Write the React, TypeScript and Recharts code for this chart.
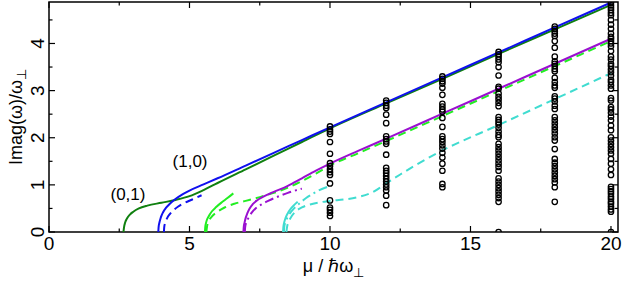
import React from 'react';
import { ComposedChart, Line, Scatter, XAxis, YAxis, ReferenceArea, ReferenceDot } from 'recharts';

type P = [number, number];

// ---- curves (x = mu / hbar omega_perp, y = Imag(omega)/omega_perp) ----
const mode01Solid: P[] = [[2.65,0],[2.67,0.1],[2.71,0.2],[2.78,0.29],[2.88,0.37],[3.0,0.43],[3.2,0.5],[3.5,0.56],[4.0,0.62],[4.5,0.68],[5.0,0.76],[5.5,0.89],[6,1.04],[7,1.33],[8,1.62],[9,1.91],[10,2.2],[12,2.73],[14,3.25],[16,3.78],[18,4.3],[20,4.82]];
const mode10Solid: P[] = [[3.89,0],[3.9,0.1],[3.93,0.2],[3.98,0.31],[4.06,0.42],[4.16,0.51],[4.3,0.6],[4.5,0.7],[4.75,0.8],[5.0,0.88],[5.5,1.01],[6,1.14],[7,1.41],[8,1.68],[9,1.95],[10,2.22],[12,2.75],[14,3.28],[16,3.81],[18,4.34],[20,4.87]];
const blueDashed: P[] = [[4.09,0],[4.1,0.1],[4.14,0.2],[4.2,0.29],[4.3,0.38],[4.45,0.47],[4.6,0.54],[4.8,0.61],[5.1,0.69],[5.43,0.78]];
const limeSolid: P[] = [[5.55,0],[5.56,0.1],[5.6,0.22],[5.68,0.33],[5.8,0.44],[5.95,0.53],[6.15,0.63],[6.35,0.72],[6.56,0.82]];
const limeDashed: P[] = [[5.6,0],[5.62,0.1],[5.68,0.22],[5.8,0.33],[6.0,0.43],[6.25,0.52],[6.6,0.6],[7.0,0.66],[7.5,0.74],[8.0,0.83],[8.5,0.94],[9.0,1.08],[9.5,1.24],[10,1.41],[11,1.67],[12,1.93],[14,2.46],[16,2.99],[18,3.52],[20,4.05]];
const purpleSolid: P[] = [[6.92,0],[6.93,0.1],[6.96,0.2],[7.0,0.3],[7.06,0.4],[7.14,0.5],[7.25,0.59],[7.4,0.67],[7.63,0.75],[8.0,0.85],[8.5,0.98],[9.0,1.14],[9.5,1.3],[10,1.45],[11,1.72],[12,1.98],[14,2.51],[16,3.04],[18,3.57],[20,4.1]];
const purpleDashDot: P[] = [[6.97,0],[6.98,0.1],[7.02,0.2],[7.1,0.3],[7.2,0.4],[7.35,0.5],[7.55,0.58],[7.8,0.66],[8.1,0.74],[8.5,0.83],[9.0,0.92]];
const turqSolid: P[] = [[8.33,0],[8.34,0.1],[8.37,0.2],[8.42,0.3],[8.5,0.4],[8.6,0.49],[8.72,0.57],[8.85,0.64]];
const turqDashDot: P[] = [[8.36,0],[8.37,0.1],[8.41,0.2],[8.48,0.3],[8.58,0.4],[8.72,0.5],[8.9,0.6],[9.15,0.72],[9.5,0.85],[10,0.98]];
const turqDashed: P[] = [[8.45,0],[8.47,0.1],[8.52,0.2],[8.6,0.3],[8.75,0.42],[9.0,0.52],[9.4,0.6],[10,0.66],[10.5,0.69],[11,0.74],[11.5,0.84],[12,1.03],[12.5,1.22],[13,1.4],[14,1.73],[16,2.27],[18,2.82],[20,3.37]];

// ---- numerical eigenvalues (open circles) ----
const col10 = [2.24,2.18,2.13,2.08,1.91,1.66,1.46,1.40,1.33,1.27,1.21,1.03,0.67,0.52,0.47,0.41,0.34];
const col12 = [2.79,2.74,2.68,2.63,2.49,2.31,2.03,1.97,1.92,1.87,1.64,1.36,1.30,1.25,1.19,1.13,1.07,1.01,0.95,0.88,0.77,0.57];
const col14 = [3.30,3.25,3.20,3.15,3.06,2.91,2.72,2.66,2.60,2.55,2.42,2.23,2.03,1.97,1.91,1.84,1.77,1.68,1.58,1.45,1.30,1.02,0.95];
const col16 = [3.82,3.77,3.72,3.66,3.60,3.50,3.32,3.08,3.04,2.94,2.87,2.81,2.74,2.67,2.44,2.38,2.33,2.28,2.21,2.13,2.06,2.01,1.87,1.80,1.73,1.66,1.59,1.52,1.45,1.38,1.30,1.14,1.07,1.00,0.93,0.86,0.79,0.72,0.64,0];
const col18 = [4.36,4.31,4.26,4.21,4.16,4.05,3.91,3.72,3.62,3.57,3.52,3.46,3.41,3.27,3.18,3.11,3.06,2.88,2.83,2.77,2.68,2.61,2.44,2.37,2.30,2.23,2.16,2.09,2.01,1.94,1.76,1.55,1.47,1.40,1.33,1.26,1.19,1.12,1.05,0.95,0.64];
const col20 = [4.87,4.81,4.76,4.71,4.65,4.60,4.50,4.40,4.31,4.21,4.14,4.10,4.05,4.00,3.94,3.84,3.72,3.66,3.57,3.52,3.45,3.39,3.32,3.23,3.18,3.11,3.04,2.84,2.79,2.65,2.60,2.53,2.45,2.37,2.26,2.16,2.01,1.94,1.87,1.80,1.73,1.66,1.55,1.45,1.33,1.21,0.96,0.91,0.86,0.81,0.75,0.70,0.64,0.60,0.54,0.48,0.43,0];
const circleColumns: [number, number[]][] = [[10, col10],[12, col12],[14, col14],[16, col16],[18, col18],[20, col20]];

const xTicks = [0,2.5,5,7.5,10,12.5,15,17.5,20];
const yTicks = [0,0.5,1,1.5,2,2.5,3,3.5,4,4.5];
const X_DOMAIN: [number, number] = [0, 20.25];
const Y_DOMAIN: [number, number] = [0, 4.88];

const W = 623, H = 281;
const M = { top: 2, right: 5, bottom: 0, left: 0 };
const Y_AXIS_W = 49, X_AXIS_H = 49;
const PLOT_TOP = M.top;
const PLOT_BOTTOM = H - M.bottom - X_AXIS_H;
const PLOT_LEFT = M.left + Y_AXIS_W;
const PLOT_RIGHT = W - M.right;
const FONT = '"Liberation Sans", Arial, sans-serif';

const toObjs = (a: P[]) => a.map(([x, y]) => ({ x, y }));
const circles = circleColumns.flatMap(([x, ys]) => ys.map((y) => ({ x, y })));

const XTick = (props: any) => {
  const { x, payload } = props;
  const v = payload.value;
  const major = v % 5 === 0;
  const len = major ? 6 : 3.5;
  return (
    <g>
      <line x1={x} x2={x} y1={PLOT_BOTTOM} y2={PLOT_BOTTOM - len} stroke="#000" strokeWidth={1.2} />
      <line x1={x} x2={x} y1={PLOT_TOP} y2={PLOT_TOP + len} stroke="#000" strokeWidth={1.2} />
      {major && (
        <text x={x} y={PLOT_BOTTOM + 18} textAnchor="middle" fontSize={19} fontFamily={FONT} fill="#000">{v}</text>
      )}
    </g>
  );
};

const YTick = (props: any) => {
  const { y, payload } = props;
  const v = payload.value;
  const major = Number.isInteger(v);
  const len = major ? 6 : 3.5;
  const cx = 37.5;
  return (
    <g>
      <line x1={PLOT_LEFT} x2={PLOT_LEFT + len} y1={y} y2={y} stroke="#000" strokeWidth={1.2} />
      <line x1={PLOT_RIGHT} x2={PLOT_RIGHT - len} y1={y} y2={y} stroke="#000" strokeWidth={1.2} />
      {major && (
        <text x={cx} y={y} transform={`rotate(-90 ${cx} ${y})`} textAnchor="middle" dominantBaseline="central" fontSize={19} fontFamily={FONT} fill="#000">{v}</text>
      )}
    </g>
  );
};

const XLabel = () => (
  <text x={(PLOT_LEFT + PLOT_RIGHT) / 2} y={272} textAnchor="middle" fontSize={18} fontFamily={FONT} fill="#000">
    μ / ℏω<tspan dy={5} fontSize={13}>⊥</tspan>
  </text>
);

const YLabel = () => {
  const cx = 16, cy = (PLOT_TOP + PLOT_BOTTOM) / 2;
  return (
    <text x={cx} y={cy} transform={`rotate(-90 ${cx} ${cy})`} textAnchor="middle" dominantBaseline="central" fontSize={18} fontFamily={FONT} fill="#000">
      Imag(ω)/ω<tspan dy={5} fontSize={13}>⊥</tspan>
    </text>
  );
};

const OpenCircle = (props: any) => (
  <circle cx={props.cx} cy={props.cy} r={2.7} fill="none" stroke="#000" strokeWidth={1.3} />
);

const lineCommon = { type: 'monotone' as const, dataKey: 'y', dot: false, isAnimationActive: false, strokeWidth: 2 };

export default function App() {
  return (
    <div style={{ position: 'absolute', left: 0, top: 0, fontFamily: FONT }}>
      <ComposedChart width={W} height={H} margin={M} style={{ fontFamily: FONT }}>
        <XAxis type="number" dataKey="x" domain={X_DOMAIN} ticks={xTicks} allowDataOverflow height={X_AXIS_H}
          axisLine={false} tickLine={false} tickSize={0} tick={<XTick />} interval={0} label={<XLabel />} />
        <YAxis type="number" dataKey="y" domain={Y_DOMAIN} ticks={yTicks} allowDataOverflow width={Y_AXIS_W}
          axisLine={false} tickLine={false} tickSize={0} tick={<YTick />} interval={0} label={<YLabel />} />
        <ReferenceArea x1={X_DOMAIN[0]} x2={X_DOMAIN[1]} y1={Y_DOMAIN[0]} y2={Y_DOMAIN[1]} fill="none" stroke="#000" strokeWidth={1.5} ifOverflow="visible" />
        <Line {...lineCommon} data={toObjs(mode01Solid)} stroke="#108010" />
        <Line {...lineCommon} data={toObjs(mode10Solid)} stroke="#1010ee" />
        <Line {...lineCommon} data={toObjs(blueDashed)} stroke="#1010ee" strokeDasharray="8 5" />
        <Line {...lineCommon} data={toObjs(limeSolid)} stroke="#22ee22" />
        <Line {...lineCommon} data={toObjs(limeDashed)} stroke="#22ee22" strokeDasharray="8 5" />
        <Line {...lineCommon} data={toObjs(turqSolid)} stroke="#40dcd0" />
        <Line {...lineCommon} data={toObjs(turqDashDot)} stroke="#40dcd0" strokeDasharray="9 4 2 4" />
        <Line {...lineCommon} data={toObjs(turqDashed)} stroke="#40dcd0" strokeDasharray="8 5" />
        <Line {...lineCommon} data={toObjs(purpleDashDot)} stroke="#9a10d0" strokeDasharray="9 4 2 4" />
        <Line {...lineCommon} data={toObjs(purpleSolid)} stroke="#9a10d0" />
        <Scatter data={circles} dataKey="y" shape={<OpenCircle />} isAnimationActive={false} />
        <ReferenceDot x={2.81} y={0.8} r={0} fill="none" stroke="none" label={{ value: '(0,1)', position: 'center', fontSize: 17, fill: '#000', fontFamily: FONT }} />
        <ReferenceDot x={5.02} y={1.5} r={0} fill="none" stroke="none" label={{ value: '(1,0)', position: 'center', fontSize: 17, fill: '#000', fontFamily: FONT }} />
      </ComposedChart>
    </div>
  );
}
